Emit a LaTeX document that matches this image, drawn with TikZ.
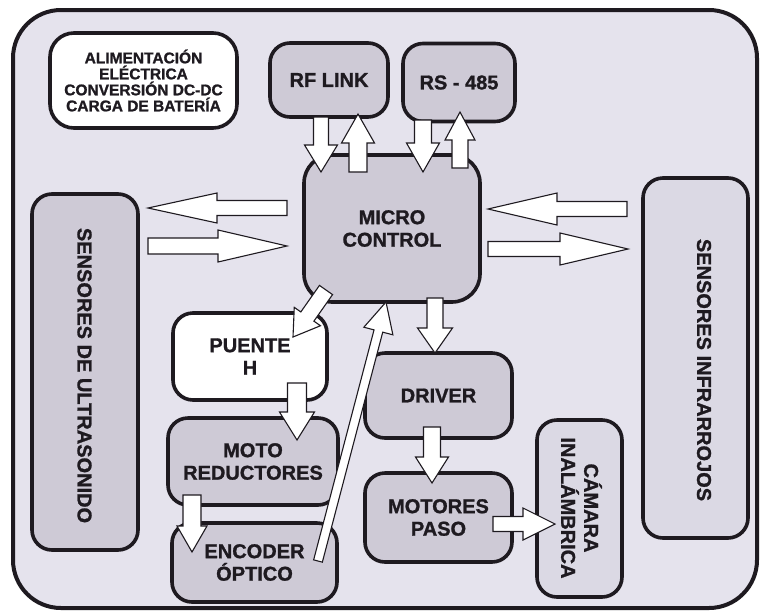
\documentclass[tikz,border=0pt]{standalone}
\usepackage{fontspec}
\setmainfont{Liberation Sans}[BoldFeatures={FakeBold=1.2}]
\usetikzlibrary{calc}
\definecolor{bg}{RGB}{229,227,237}
\definecolor{boxgray}{RGB}{206,202,214}
\definecolor{boxlight}{RGB}{219,217,228}
\definecolor{ink}{RGB}{30,26,32}
% block arrow: #1 tail coordinate, #2 tip coordinate, #3 shaft half width, #4 head half width, #5 head length
\newcommand\blockarrow[5]{%
  \coordinate (bh) at ($(#2)!#5!(#1)$);
  \draw[barrow] ($(#1)!#3!90:(#2)$) -- ($(bh)!#3!-90:(#1)$) -- ($(bh)!#4!-90:(#1)$) -- (#2)
     -- ($(bh)!#4!90:(#1)$) -- ($(bh)!#3!90:(#1)$) -- ($(#1)!#3!-90:(#2)$) -- cycle;
}
\begin{document}
\begin{tikzpicture}[x=1pt,y=-1pt,
  box/.style={draw=ink, line width=3.6pt, rounded corners=20pt, fill=boxgray,
    inner sep=0pt, outer sep=0pt, align=center, text=ink,
    font=\bfseries\fontsize{20}{22.5}\selectfont},
  barrow/.style={draw=ink, fill=white, line width=1.1pt, line join=miter},
  vtext/.style={rotate=-90, text=ink, align=center, inner sep=0pt,
    font=\bfseries\fontsize{20}{23}\selectfont}]
\useasboundingbox (0,0) rectangle (763,614);
\fill[white] (0,0) rectangle (763,614);
\draw[draw=ink, fill=bg, line width=4pt, rounded corners=48pt] (13,10) rectangle (757,608);

% boxes
\node[box, fill=white, minimum width=187pt, minimum height=95pt, rounded corners=24pt,
  font=\bfseries\fontsize{15.5}{16}\selectfont] (alim) at (143.5,80.5)
  {ALIMENTACIÓN\\ELÉCTRICA\\CONVERSIÓN DC-DC\\CARGA DE BATERÍA};
\node[box, minimum width=118pt, minimum height=74pt] (rf) at (329,80) {RF LINK};
\node[box, minimum width=112pt, minimum height=78pt] (rs) at (459,82.5) {RS - 485};
\node[box, minimum width=176pt, minimum height=147pt, rounded corners=28pt] (micro) at (392,228.5) {MICRO\\CONTROL};
\node[box, minimum width=106pt, minimum height=356pt] (ultra) at (85,372) {};
\node[vtext] (ultrat) at (84.5,375.5) {SENSORES DE ULTRASONIDO};
\node[box, fill=boxlight, minimum width=105pt, minimum height=360pt] (infra) at (695.5,358) {};
\node[vtext] (infrat) at (704,370) {SENSORES INFRARROJOS};
\node[box, fill=white, minimum width=154pt, minimum height=87pt] (puente) at (250,356.5) {PUENTE\\H};
\node[box, minimum width=170pt, minimum height=87pt] (moto) at (253,461.5) {MOTO\\REDUCTORES};
\node[box, minimum width=165pt, minimum height=79pt] (encoder) at (254.5,562.5) {ENCODER\\ÓPTICO};
\node[box, minimum width=147pt, minimum height=85pt] (driver) at (438.5,395.5) {DRIVER};
\node[box, minimum width=147pt, minimum height=89pt] (motores) at (438.5,517.5) {MOTORES\\PASO};
\node[box, fill=boxlight, minimum width=85pt, minimum height=177pt] (camara) at (579.5,508.5) {};
\node[vtext] (camarat) at (581.5,508) {CÁMARA\\INALÁMBRICA};

% arrow end points, relative to the nodes
\coordinate (a1s) at ($(rf.center)+(-8,37)$);      \coordinate (a1e) at ($(micro.center)+(-71,-56.5)$);
\coordinate (a2s) at ($(micro.center)+(-34,-56.5)$); \coordinate (a2e) at ($(rf.center)+(29,34)$);
\coordinate (a3s) at ($(rs.center)+(-36,37.5)$);    \coordinate (a3e) at ($(micro.center)+(31,-56.5)$);
\coordinate (a4s) at ($(micro.center)+(68,-60.5)$); \coordinate (a4e) at ($(rs.center)+(1,29.5)$);
\coordinate (a5s) at ($(micro.center)+(-105,-20.5)$); \coordinate (a5e) at ($(ultra.center)+(63,-164)$);
\coordinate (a6s) at ($(ultra.center)+(63,-126)$);  \coordinate (a6e) at ($(micro.center)+(-105,17.5)$);
\coordinate (a7s) at ($(infra.center)+(-68.5,-149)$); \coordinate (a7e) at ($(micro.center)+(96,-19.5)$);
\coordinate (a8s) at ($(micro.center)+(96,20.5)$);  \coordinate (a8e) at ($(infra.center)+(-67.5,-109)$);
\coordinate (a9s) at ($(micro.center)+(-66,61.5)$); \coordinate (a9e) at ($(puente.center)+(43,-19.5)$);
\coordinate (a10s) at ($(micro.center)+(43,69.5)$); \coordinate (a10e) at ($(driver.center)+(-3.5,-42.5)$);
\coordinate (a11s) at ($(puente.center)+(47,26.5)$); \coordinate (a11e) at ($(moto.center)+(44,-21.5)$);
\coordinate (a12s) at ($(moto.center)+(-61,33.5)$); \coordinate (a12e) at ($(encoder.center)+(-62.5,-10.5)$);
\coordinate (a13s) at ($(encoder.center)+(63.5,-1.5)$); \coordinate (a13e) at ($(micro.center)+(-6,73.5)$);
\coordinate (a14s) at ($(driver.center)+(-6.5,31.5)$); \coordinate (a14e) at ($(motores.center)+(-6.5,-34.5)$);
\coordinate (a15s) at ($(motores.center)+(54.5,6.5)$); \coordinate (a15e) at ($(camara.center)+(-24.5,15.5)$);

% block arrows
\blockarrow{a1s}{a1e}{7.5pt}{16.5pt}{27pt}
\blockarrow{a2s}{a2e}{9pt}{16.5pt}{29pt}
\blockarrow{a3s}{a3e}{8.5pt}{16.5pt}{29pt}
\blockarrow{a4s}{a4e}{8pt}{15pt}{28pt}
\blockarrow{a5s}{a5e}{7.5pt}{15pt}{69pt}
\blockarrow{a6s}{a6e}{8pt}{16pt}{69pt}
\blockarrow{a7s}{a7e}{7.5pt}{16pt}{69pt}
\blockarrow{a8s}{a8e}{7.5pt}{16pt}{68pt}
\blockarrow{a9s}{a9e}{8pt}{16pt}{25pt}
\blockarrow{a10s}{a10e}{8pt}{17.5pt}{25pt}
\blockarrow{a11s}{a11e}{9.5pt}{17.5pt}{28pt}
\blockarrow{a12s}{a12e}{9pt}{15pt}{26pt}
\blockarrow{a13s}{a13e}{4.5pt}{15pt}{30pt}
\blockarrow{a14s}{a14e}{8.5pt}{16.5pt}{26pt}
\blockarrow{a15s}{a15e}{7.5pt}{16pt}{32pt}
\end{tikzpicture}
\end{document}
